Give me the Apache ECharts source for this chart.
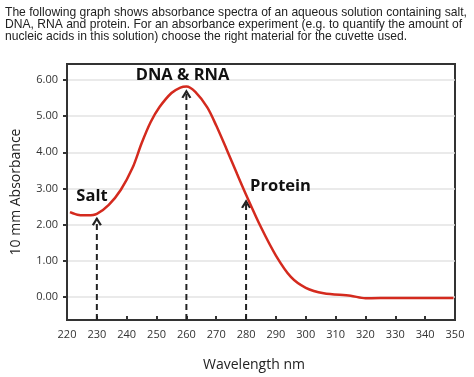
<!DOCTYPE html>
<html>
<head>
<meta charset="utf-8">
<script src="https://cdn.jsdelivr.net/npm/echarts@6/dist/echarts.min.js"></script>
<style>
html,body{margin:0;padding:0;background:#fff;}
#chart{width:474px;height:377px;}
</style>
</head>
<body>
<div id="chart"></div>
<script>
// ---- data ----
const wavelengths = [221, 224, 227, 230, 234, 238, 242, 245, 248, 251, 255, 258, 260, 263, 267, 270, 273.5, 277, 280, 285, 290, 295, 300, 306, 315, 320, 330, 340, 349.5];
const absorbance  = [2.35, 2.27, 2.26, 2.30, 2.55, 2.96, 3.58, 4.25, 4.83, 5.25, 5.64, 5.79, 5.82, 5.67, 5.24, 4.74, 4.08, 3.40, 2.83, 1.93, 1.15, 0.56, 0.26, 0.11, 0.04, -0.03, -0.02, -0.02, -0.02];
const arrowX    = [230, 260, 280];
const arrowTip  = [2.18, 5.70, 2.66];
const yTicks    = [0, 1, 2, 3, 4, 5, 6];
const titleText = 'The following graph shows absorbance spectra of an aqueous solution containing salt,\nDNA, RNA and protein. For an absorbance experiment (e.g. to quantify the amount of\nnucleic acids in this solution) choose the right material for the cuvette used.';
const annotations = ['Salt', 'DNA & RNA', 'Protein'];

const yMin = -0.63, yMax = 6.44;

const chart = echarts.init(document.getElementById('chart'));

const curve = wavelengths.map((w, i) => [w, absorbance[i]]);
const arrowSeries = arrowX.map((x, i) => ({
  type: 'line',
  silent: true,
  z: 3,
  data: [
    {value: [x, yMin], symbol: 'none'},
    {value: [x, arrowTip[i]], symbol: 'path://M0,9 L5,0 L10,9 L8,10 L5,4.5 L2,10 Z', symbolSize: [10, 9], symbolKeepAspect: true}
  ],
  lineStyle: {color: '#222', width: 2, type: [6, 4]},
  itemStyle: {color: '#222', borderWidth: 0},
  symbolOffset: [0, 3]
}));

const labelFont = {fontFamily: '"Open Sans", sans-serif', fontWeight: 'bold', fontSize: 16.5, fill: '#111'};

chart.setOption({
  animation: false,
  grid: {left: 67, right: 19, top: 64, bottom: 54, show: true, borderColor: '#333', borderWidth: 2, containLabel: false},
  xAxis: {
    type: 'value', min: 220, max: 350, interval: 10,
    name: 'Wavelength nm', nameLocation: 'middle', nameGap: 38,
    nameTextStyle: {fontFamily: '"Open Sans", sans-serif', fontSize: 14, color: '#222', padding: [0, 14, 0, 0]},
    axisLine: {show: true, onZero: false, lineStyle: {color: '#333', width: 2}},
    axisTick: {show: true, inside: true, length: 4, lineStyle: {color: '#333', width: 2}},
    axisLabel: {fontFamily: '"Open Sans", sans-serif', fontSize: 11, color: '#333', margin: 9},
    splitLine: {show: false}
  },
  yAxis: {
    type: 'value', min: yMin, max: yMax,
    name: '10 mm Absorbance', nameLocation: 'middle', nameGap: 44,
    nameTextStyle: {fontFamily: '"Open Sans", sans-serif', fontSize: 14, color: '#222'},
    axisLine: {show: true, onZero: false, lineStyle: {color: '#333', width: 2}},
    axisTick: {show: true, inside: false, length: 4, customValues: yTicks, lineStyle: {color: '#333', width: 2}},
    axisLabel: {fontFamily: '"Open Sans", sans-serif', fontSize: 11, color: '#333', margin: 9, customValues: yTicks,
      formatter: v => v.toFixed(2)},
    splitLine: {show: true, lineStyle: {color: '#e3e3e3', width: 1.5}}
  },
  series: [
    {
      type: 'line', data: curve, smooth: 0.3, showSymbol: false, z: 4,
      lineStyle: {color: '#d42a1e', width: 2.5}
    },
    ...arrowSeries
  ],
  graphic: [
    {type: 'text', z: 100, left: 5, top: 6, style: {text: titleText, fontFamily: 'Liberation Sans, Arial, sans-serif', fontSize: 12.1, lineHeight: 12.4, fill: '#222'}},
    {type: 'text', z: 100, x: 92, y: 196, style: Object.assign({text: annotations[0], align: 'center', verticalAlign: 'middle'}, labelFont)},
    {type: 'text', z: 100, x: 182.5, y: 75, style: Object.assign({text: annotations[1], align: 'center', verticalAlign: 'middle'}, labelFont)},
    {type: 'text', z: 100, x: 280.5, y: 186, style: Object.assign({text: annotations[2], align: 'center', verticalAlign: 'middle'}, labelFont)}
  ]
});
</script>
</body>
</html>
